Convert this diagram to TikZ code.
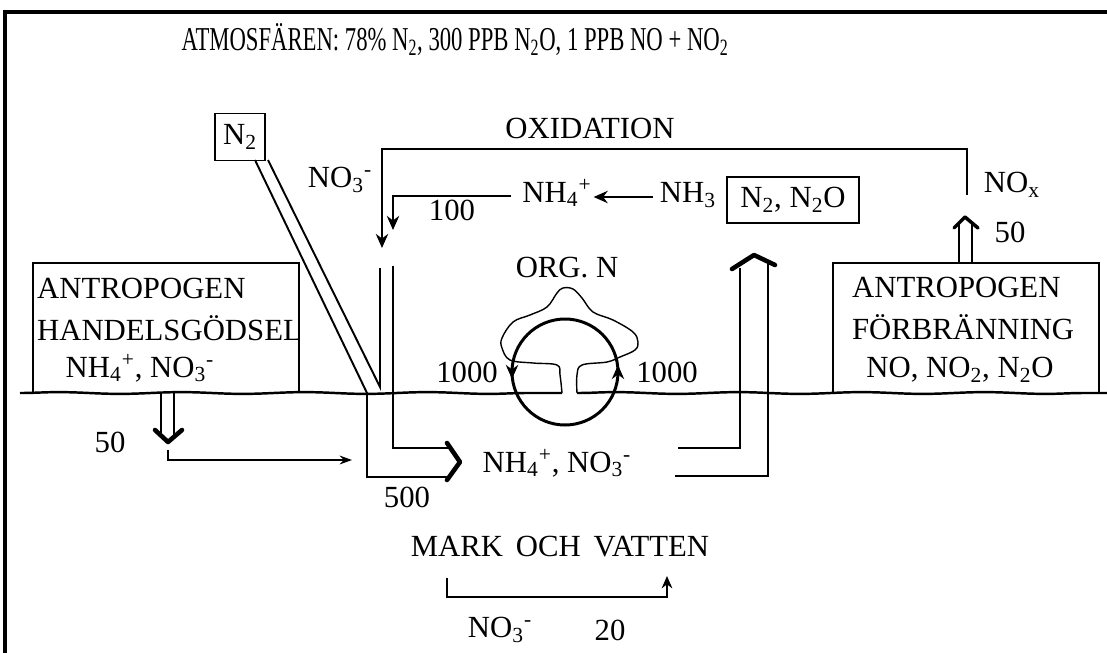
\documentclass[tikz,border=0pt]{standalone}
\usepackage{fontspec}
\setmainfont{Liberation Serif}
\usepackage{graphicx}
\usepackage{tikz}
\usetikzlibrary{arrows,arrows.meta,decorations.pathmorphing}

\newcommand{\nlo}[1]{\textsubscript{#1}}
\newcommand{\nhi}[1]{\textsuperscript{#1}}

\tikzset{
  lbl/.style={font=\fontsize{17.5}{20}\selectfont, inner sep=1pt},
  flux/.style={line width=1.1pt},
  heavy/.style={line width=1.7pt},
  tip/.style={line width=1.7pt, -{Stealth[length=8pt,width=7pt]}},
  head/.style={line width=2.6pt, line cap=round, line join=round},
  ground/.style={line width=1.4pt, decorate, decoration={snake, amplitude=0.5pt, segment length=70pt}}
}

\begin{document}
\begin{tikzpicture}[x=0.02cm, y=-0.02cm]
\useasboundingbox (0,0) rectangle (1107,653);
\draw[line width=2.4pt] (5,653) -- (5,12) -- (1107,12);

\node[lbl, font=\fontsize{19}{22}\selectfont] (atm) at (455,40) {\scalebox{0.68}[1]{ATMOSFÄREN: 78\% N\nlo{2}, 300 PPB N\nlo{2}O, 1 PPB NO + NO\nlo{2}}};

% ground line
\draw[ground] (20,393) -- (562,393);
\draw[ground] (577,393) -- (1107,393);

% boxes standing on the ground
\draw[flux] (33,393) -- (33,263) -- (299,263) -- (299,393);
\node[lbl, anchor=west] (hg1) at (35,288) {ANTROPOGEN};
\node[lbl, anchor=west] (hg2) at (35,328) {HANDELSGÖDSEL};
\node[lbl] (hg3) at (140,368) {NH\nlo{4}\nhi{+}, NO\nlo{3}\nhi{-}};
\draw[flux] (833,393) -- (833,263) -- (1099,263) -- (1099,393);
\node[lbl, anchor=west] (fb1) at (850,287) {ANTROPOGEN};
\node[lbl, anchor=west] (fb2) at (850,327) {FÖRBRÄNNING};
\node[lbl] (fb3) at (960,370) {NO, NO\nlo{2}, N\nlo{2}O};

% atmosphere
\node[lbl, draw, flux, minimum width=50*0.02cm, minimum height=47*0.02cm] (ntwo) at (240,137) {N\nlo{2}};
\node[lbl] (oxid) at (590,128) {OXIDATION};
\node[lbl] (nothree) at (340,180) {NO\nlo{3}\nhi{-}};
\node[lbl] (nhfour) at (557,193) {NH\nlo{4}\nhi{+}};
\node[lbl] (hundred) at (452,210) {100};
\node[lbl] (nhthree) at (688,195) {NH\nlo{3}};
\node[lbl, draw, flux, minimum width=132*0.02cm, minimum height=46*0.02cm] (gas) at (793,200) {N\nlo{2}, N\nlo{2}O};
\node[lbl] (nox) at (1012,185) {NO\nlo{x}};
\node[lbl] (fiftyr) at (1010,232) {50};

\draw[tip] (967,195) -- (967,149) -- (382,149) -- (382,248);
\draw[tip] (nhfour.west) ++(-9,3) -- (393,196) -- (393,230);
\draw[tip, line width=1.4pt] (nhthree.west) ++(-5,2) -- (nhfour.east |- 0,197);

% fixation from N2
\draw[flux] (255,160) -- (367,393) -- (367,477) -- (448,477);
\draw[flux] (268,160) -- (380,387) -- (380,268);
\draw[flux] (393,266) -- (393,448) -- (448,448);
\draw[head] (447,443) -- (460,462) -- (447,480);

% to the atmosphere
\draw[flux] (678,448) -- (740,448) -- (740,268);
\draw[flux] (675,476) -- (768,476) -- (768,263);
\draw[head] (732,269) -- (754,255) -- (775,265);
\draw[flux] (959,263) -- (959,224);
\draw[flux] (972,263) -- (972,224);
\draw[head, line width=2pt] (954,228) -- (965,217) -- (978,228);

% fertiliser
\node[lbl] (fiftyl) at (110,442) {50};
\draw[flux] (161,393) -- (161,436);
\draw[flux] (174,393) -- (174,436);
\draw[head] (155,430) -- (168,442) -- (182,430);
\draw[flux, -{Stealth[length=7pt,width=5pt]}] (168,450) -- (168,460) -- (352,460);

% soil pool and organic N
\node[lbl] (orgn) at (567,268) {ORG. N};
\draw[line width=0.8pt] plot[smooth, tension=0.6] coordinates {
  (562,393) (560,375) (557,365) (533,363) (510,360) (502,348) (502,338)
  (513,322) (530,315) (547,307) (557,293) (563,288) (573,289) (582,298)
  (593,312) (613,320) (633,332) (638,342) (635,350) (620,357) (607,362)
  (582,365) (577,375) (577,393)};
\draw[heavy] (565,372) circle (53);
\draw[tip, line width=1.4pt] (512,364) -- (512,379);
\draw[tip, line width=1.4pt] (618,381) -- (618,365);
\node[lbl] (kl) at (467,372) {1000};
\node[lbl] (kr) at (667,372) {1000};
\node[lbl] (soil) at (557,463) {NH\nlo{4}\nhi{+}, NO\nlo{3}\nhi{-}};
\node[lbl] (fivehundred) at (407,497) {500};

% leaching
\node[lbl] (mark) at (560,547) {MARK\, OCH\, VATTEN};
\draw[flux, -{Stealth[length=7pt,width=6pt]}] (447,578) -- (447,597) -- (667,597) -- (667,576);
\node[lbl] (leach) at (500,630) {NO\nlo{3}\nhi{-}};
\node[lbl] (twenty) at (610,630) {20};
\end{tikzpicture}
\end{document}
